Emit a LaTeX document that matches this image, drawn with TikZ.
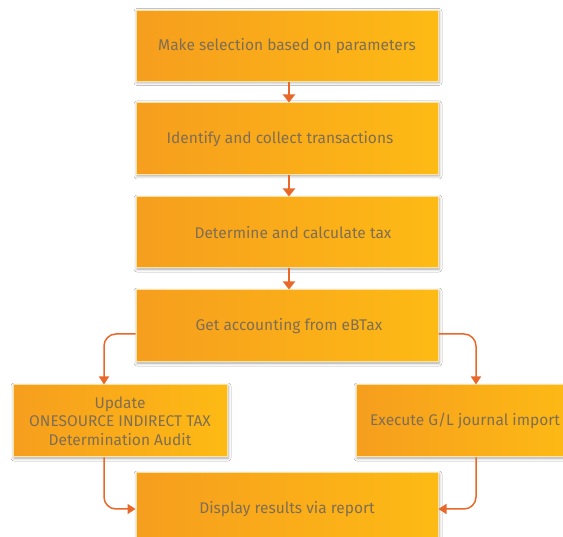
\documentclass[tikz,border=0pt]{standalone}
\usepackage{fontspec}
\setmainfont{Fira Sans}
\usetikzlibrary{arrows.meta,shadows.blur,calc}
\definecolor{boxL}{RGB}{246,158,30}
\definecolor{boxR}{RGB}{253,186,20}
\definecolor{boxEdge}{RGB}{253,226,160}
\definecolor{txt}{RGB}{128,110,82}
\definecolor{arr}{RGB}{232,104,42}
\begin{document}
\begin{tikzpicture}[x=1pt,y=-1pt,
  stepbox/.style={rectangle, draw=boxEdge, line width=1pt,
    left color=boxL, right color=boxR,
    blur shadow={shadow xshift=1pt, shadow yshift=-1pt, shadow blur radius=3pt, shadow opacity=35},
    text=txt, font=\fontsize{15.5}{18.5}\selectfont, align=center,
    inner sep=0pt, minimum height=72pt},
  flow/.style={draw=arr, line width=2.6pt, -{Triangle[length=8pt,width=12pt]}},
  conn/.style={draw=arr, line width=1.5pt, rounded corners=12pt, -{Triangle[length=8pt,width=10pt]}}]
\useasboundingbox (0,0) rectangle (563,537);
\fill[white] (0,0) rectangle (563,537);
\node[stepbox, minimum width=302pt, minimum height=71pt] (b1) at (287,46) {Make selection based on parameters};
\node[stepbox, minimum width=302pt] (b2) at (287,139) {\hspace*{-14pt}Identify and collect transactions};
\node[stepbox, minimum width=302pt, minimum height=71pt] (b3) at (287,232.5) {\hspace*{12pt}Determine and calculate tax};
\node[stepbox, minimum width=302pt] (b4) at (287,326) {\hspace*{4pt}Get accounting from eBTax};
\node[stepbox, minimum width=214pt] (lf) at (120,421) {Update\\ONESOURCE INDIRECT TAX\\Determination Audit};
\node[stepbox, minimum width=218pt] (rt) at (465,421) {Execute G/L journal import};
\node[stepbox, minimum width=302pt] (b5) at (287,509) {Display results via report};
\draw[flow] ([xshift=2pt]b1.south) -- ([xshift=2pt]b2.north);
\draw[flow] ([xshift=2pt]b2.south) -- ([xshift=2pt]b3.north);
\draw[flow] ([xshift=2pt]b3.south) -- ([xshift=2pt]b4.north);
\draw[conn] ([yshift=-8pt]b4.west) -| ([xshift=-16pt]lf.north);
\draw[conn] ([yshift=-8pt]b4.east) -| ([xshift=11pt]rt.north);
\draw[conn] ([xshift=-16pt]lf.south) |- (b5.west);
\draw[conn] ([xshift=11pt]rt.south) |- (b5.east);
\end{tikzpicture}
\end{document}
